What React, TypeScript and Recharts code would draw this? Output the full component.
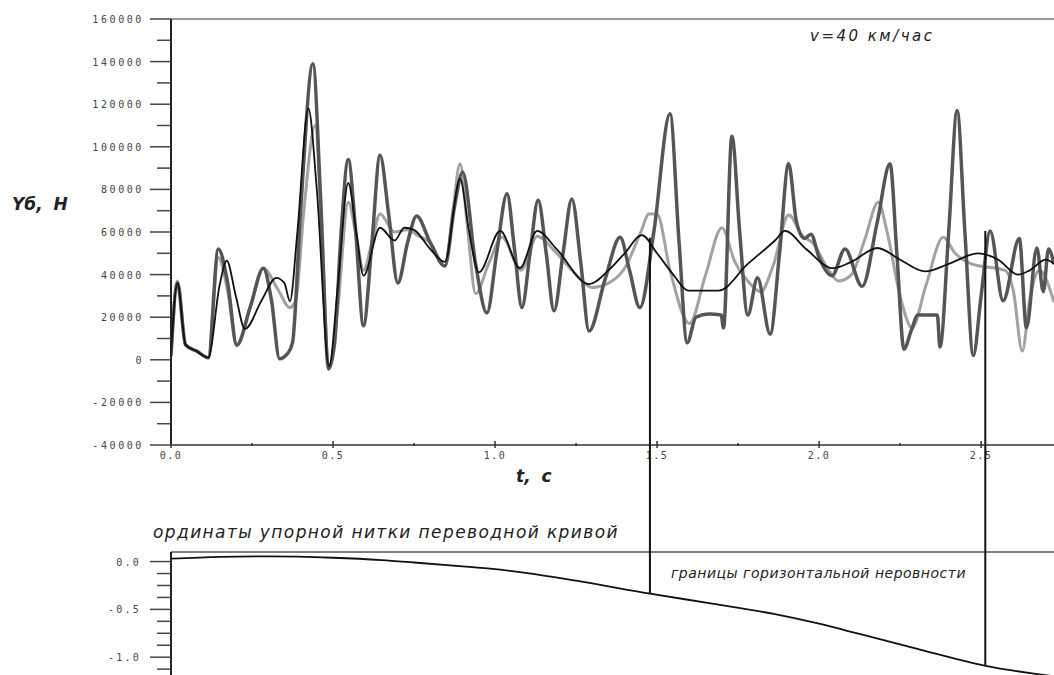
import { LineChart, Line, XAxis, YAxis, ReferenceLine } from "recharts";

// time, s  /  lateral force Yб, N
const darkCurve: [number, number][] = [
  [0, 2000], [0.02, 36000], [0.045, 7000], [0.08, 4000], [0.115, 1000],
  [0.146, 52000], [0.175, 36000], [0.203, 7000], [0.245, 25000], [0.285, 43000], [0.31, 28000], [0.335, 500], [0.36, 3000], [0.375, 8000],
  [0.4, 70000], [0.438, 139000], [0.462, 75000], [0.486, -4300], [0.505, 8000], [0.525, 60000], [0.547, 94000], [0.57, 60000], [0.594, 16000],
  [0.62, 55000], [0.645, 96000], [0.672, 68000], [0.7, 36000], [0.73, 55000], [0.758, 67500], [0.8, 55000], [0.845, 44000], [0.875, 72000],
  [0.9, 88000], [0.94, 45000], [0.975, 22000], [1.005, 50000], [1.037, 78000], [1.06, 52000], [1.083, 24500], [1.108, 50000], [1.133, 75000],
  [1.158, 50000], [1.182, 23000], [1.21, 50000], [1.237, 75500], [1.265, 45000], [1.29, 13500], [1.34, 38000], [1.386, 57500], [1.415, 42000],
  [1.447, 24500], [1.49, 60000], [1.54, 115500], [1.568, 55000], [1.593, 8000], [1.62, 20000], [1.66, 21500], [1.698, 21000], [1.705, 15000],
  [1.731, 105000], [1.755, 60000], [1.78, 21000], [1.81, 38500], [1.849, 12000], [1.878, 50000], [1.906, 92000], [1.93, 65000], [1.955, 57000],
  [1.975, 59000], [2.0, 48000], [2.04, 39500], [2.08, 52000], [2.133, 34500], [2.18, 65000], [2.219, 92000], [2.24, 50000], [2.262, 5000],
  [2.285, 14000], [2.305, 21000], [2.365, 21000], [2.373, 6000], [2.4, 60000], [2.426, 117000], [2.45, 60000], [2.476, 2000], [2.5, 30000],
  [2.528, 60500], [2.568, 27700], [2.618, 57000], [2.64, 15000], [2.672, 52500], [2.692, 32000], [2.708, 52000], [2.725, 45000],
];

const lightCurve: [number, number][] = [
  [0, 2000], [0.02, 37000], [0.045, 7000], [0.08, 4000], [0.115, 1000], [0.146, 48000], [0.175, 32000], [0.203, 6500], [0.245, 25000],
  [0.285, 43000], [0.33, 33000], [0.367, 24500], [0.385, 28000], [0.41, 70000], [0.445, 110000], [0.465, 60000], [0.488, -4000], [0.515, 25000],
  [0.547, 74000], [0.572, 58000], [0.594, 42000], [0.62, 55000], [0.645, 68500], [0.69, 60000], [0.73, 61000], [0.765, 58000], [0.8, 55000],
  [0.845, 44000], [0.87, 70000], [0.892, 92000], [0.915, 62000], [0.94, 31000], [0.98, 45000], [1.022, 57500], [1.08, 42000], [1.13, 58000],
  [1.19, 50000], [1.25, 40000], [1.3, 34000], [1.35, 36000], [1.4, 43000], [1.45, 60000], [1.475, 68500], [1.5, 68500], [1.54, 42000],
  [1.6, 17000], [1.65, 40000], [1.7, 62000], [1.74, 46000], [1.78, 37000], [1.82, 32000], [1.86, 45000], [1.906, 68000], [1.95, 58000],
  [1.98, 55000], [2.03, 42000], [2.06, 37000], [2.1, 40000], [2.14, 56000], [2.183, 74000], [2.21, 60000], [2.25, 30000], [2.287, 15000],
  [2.33, 35000], [2.383, 57500], [2.42, 50000], [2.47, 45000], [2.574, 42000], [2.6, 32000], [2.627, 4000], [2.65, 28000], [2.68, 42000],
  [2.725, 27000],
];

const blackCurve: [number, number][] = [
  [0, 2000], [0.02, 36000], [0.045, 7000], [0.08, 4000], [0.115, 1000], [0.15, 35000], [0.172, 46500], [0.2, 30000], [0.228, 14500],
  [0.28, 28000], [0.325, 38500], [0.35, 36000], [0.367, 27500], [0.39, 60000], [0.424, 118000], [0.45, 80000], [0.488, -3000], [0.515, 35000],
  [0.547, 83000], [0.572, 60000], [0.594, 39500], [0.645, 62000], [0.69, 56000], [0.72, 62000], [0.75, 61000], [0.8, 52000], [0.845, 46000],
  [0.892, 85000], [0.92, 60000], [0.95, 41000], [1.016, 60500], [1.077, 43000], [1.13, 60500], [1.19, 52000], [1.29, 35500], [1.35, 42000],
  [1.4, 50000], [1.453, 58500], [1.5, 50000], [1.55, 40000], [1.596, 32500], [1.69, 32500], [1.78, 45000], [1.864, 56000], [1.895, 60500],
  [1.96, 52000], [2.043, 43000], [2.1, 46000], [2.18, 52500], [2.25, 47000], [2.327, 41500], [2.4, 45000], [2.49, 50000], [2.553, 47000],
  [2.614, 40000], [2.65, 42000], [2.7, 47000], [2.725, 45000],
];

// ordinates of the guard rail of the turnout curve
const railCurve: [number, number][] = [
  [0, 0.03], [0.15, 0.05], [0.3, 0.055], [0.5, 0.04], [0.65, 0.015], [0.75, -0.01], [0.9, -0.05], [1.0, -0.08], [1.1, -0.12],
  [1.25, -0.2], [1.478, -0.335], [1.67, -0.44], [1.864, -0.55], [2.0, -0.65], [2.128, -0.76], [2.3, -0.91], [2.514, -1.09], [2.725, -1.2],
];

// limits of the horizontal irregularity: t, force where the marker starts, rail ordinate where it ends
const limitT = [1.478, 2.513];
const limitForce = [57300, 60500];
const limitRail = [-0.335, -1.09];

const T_MAX = 2.725;
const tTicks = [0, 0.25, 0.5, 0.75, 1, 1.25, 1.5, 1.75, 2, 2.25, 2.5];
const forceTicks = [-40000, -30000, -20000, -10000, 0, 10000, 20000, 30000, 40000, 50000, 60000, 70000, 80000, 90000, 100000, 110000, 120000, 130000, 140000, 150000, 160000];
const railTicks = [0, -0.125, -0.25, -0.375, -0.5, -0.625, -0.75, -0.875, -1, -1.125, -1.25];

const toRows = (pts: [number, number][]) => pts.map(([t, v]) => ({ t, v }));

const tickFont = { fontFamily: "DejaVu Sans Mono", fontSize: 10, fill: "#444" };

function XTick(props: any) {
  const { x, y, payload } = props;
  const major = Math.abs(payload.value * 2 - Math.round(payload.value * 2)) < 1e-6;
  return (
    <g>
      <line x1={x} x2={x} y1={major ? y - 4 : y - 2} y2={major ? y + 3 : y + 1} stroke="#333" strokeWidth={1.5} />
      {major && (
        <text x={x} y={y + 14} textAnchor="middle" letterSpacing={1.5} {...tickFont}>
          {payload.value.toFixed(1)}
        </text>
      )}
    </g>
  );
}

function ForceTick(props: any) {
  const { x, y, payload } = props;
  const major = payload.value % 20000 === 0;
  return (
    <g>
      <line x1={major ? x - 21 : x - 14} x2={x} y1={y} y2={y} stroke="#444" strokeWidth={1.5} />
      {major && (
        <text x={x - 27} y={y + 4} textAnchor="end" letterSpacing={2.6} {...tickFont}>
          {String(payload.value)}
        </text>
      )}
    </g>
  );
}

function RailTick(props: any) {
  const { x, y, payload } = props;
  const major = Math.abs(payload.value * 2 - Math.round(payload.value * 2)) < 1e-6;
  return (
    <g>
      <line x1={major ? x - 21 : x - 14} x2={x} y1={y} y2={y} stroke="#444" strokeWidth={1.5} />
      {major && (
        <text x={x - 30} y={y + 4} textAnchor="end" letterSpacing={2.2} {...tickFont}>
          {payload.value.toFixed(1)}
        </text>
      )}
    </g>
  );
}

const caption = { position: "absolute" as const, fontFamily: "DejaVu Sans", fontStyle: "italic", color: "#222", whiteSpace: "pre" as const, lineHeight: 1 };

export default function App() {
  return (
    <div style={{ position: "fixed", left: 0, top: 0, width: 1054, height: 675, overflow: "hidden", background: "#fff" }}>
      <div style={{ position: "absolute", left: 0, top: 0 }}>
        <LineChart width={1054} height={552} margin={{ top: 19, right: 0, left: 0, bottom: 0 }}>
          <XAxis type="number" dataKey="t" domain={[0, T_MAX]} ticks={tTicks} interval={0} allowDataOverflow height={107} tickSize={0} tickMargin={0} tick={<XTick />} stroke="#333" strokeWidth={1.5} />
          <YAxis type="number" domain={[-40000, 160000]} ticks={forceTicks} interval={0} width={171} tickSize={0} tickMargin={0} tick={<ForceTick />} stroke="#222" strokeWidth={2} />
          <ReferenceLine y={160000} stroke="#999" strokeWidth={2} />
          <Line data={toRows(lightCurve)} dataKey="v" type="monotone" stroke="#a2a2a2" strokeWidth={3} dot={false} activeDot={false} isAnimationActive={false} />
          <Line data={toRows(darkCurve)} dataKey="v" type="monotone" stroke="#555" strokeWidth={3.5} dot={false} activeDot={false} isAnimationActive={false} />
          <Line data={toRows(blackCurve)} dataKey="v" type="monotone" stroke="#111" strokeWidth={1.8} dot={false} activeDot={false} isAnimationActive={false} />
          {limitT.map((t, i) => (
            <ReferenceLine key={t} segment={[{ x: t, y: limitForce[i] }, { x: t, y: -40000 }]} stroke="#111" strokeWidth={2} ifOverflow="visible" />
          ))}
        </LineChart>
      </div>
      <div style={{ position: "absolute", left: 0, top: 445 }}>
        <LineChart width={1054} height={260} margin={{ top: 107, right: 0, left: 0, bottom: 0 }}>
          <XAxis type="number" dataKey="t" domain={[0, T_MAX]} allowDataOverflow hide />
          <YAxis type="number" domain={[-1.5, 0.1]} ticks={railTicks} interval={0} width={171} tickSize={0} tickMargin={0} tick={<RailTick />} stroke="#222" strokeWidth={2} allowDataOverflow />
          <ReferenceLine y={0.1} stroke="#555" strokeWidth={1.5} />
          <Line data={toRows(railCurve)} dataKey="v" type="monotone" stroke="#111" strokeWidth={1.8} dot={false} activeDot={false} isAnimationActive={false} />
          {limitT.map((t, i) => (
            <ReferenceLine key={t} segment={[{ x: t, y: 5 }, { x: t, y: limitRail[i] }]} stroke="#111" strokeWidth={2} ifOverflow="visible" />
          ))}
        </LineChart>
      </div>
      <div style={{ ...caption, left: 12, top: 196, fontSize: 17, fontWeight: "bold", wordSpacing: 5 }}>Yб, Н</div>
      <div style={{ ...caption, left: 516, top: 468, fontSize: 17, fontWeight: "bold", wordSpacing: 5 }}>t, c</div>
      <div style={{ ...caption, left: 810, top: 29, fontSize: 15, letterSpacing: 2.5 }}>v=40 км/час</div>
      <div style={{ ...caption, left: 153, top: 524, fontSize: 17, letterSpacing: 1.4 }}>ординаты упорной нитки переводной кривой</div>
      <div style={{ ...caption, left: 671, top: 566, fontSize: 14, letterSpacing: 0.5 }}>границы горизонтальной неровности</div>
    </div>
  );
}
